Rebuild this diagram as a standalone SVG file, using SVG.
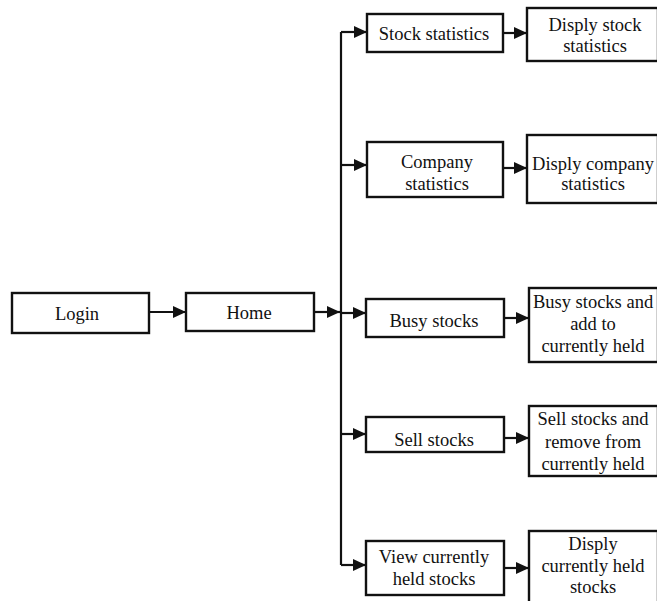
<svg xmlns="http://www.w3.org/2000/svg" width="657" height="601" viewBox="0 0 657 601">
<defs>
<marker id="arr" markerUnits="userSpaceOnUse" markerWidth="14" markerHeight="14" refX="13" refY="7" orient="auto">
<path d="M0,1 L13,7 L0,13 z" fill="#111"/>
</marker>
<style>
rect{fill:#fff;stroke:#111;stroke-width:2.4}
text{font-size:18.5px;fill:#111;text-anchor:middle}
.c{fill:none;stroke:#111;stroke-width:2.2}
</style>
</defs>
<rect x="0" y="0" width="657" height="601" style="stroke:none"/>
<g id="connectors">
<path class="c" d="M149,312 H186" marker-end="url(#arr)"/>
<path class="c" d="M314,312 H340" marker-end="url(#arr)"/>
<path class="c" d="M341,32 V565"/>
<path class="c" d="M341,32 H367" marker-end="url(#arr)"/>
<path class="c" d="M341,165 H367" marker-end="url(#arr)"/>
<path class="c" d="M341,313 H366" marker-end="url(#arr)"/>
<path class="c" d="M341,434 H366" marker-end="url(#arr)"/>
<path class="c" d="M341,565 H366" marker-end="url(#arr)"/>
<path class="c" d="M503,33 H527" marker-end="url(#arr)"/>
<path class="c" d="M503,168 H527" marker-end="url(#arr)"/>
<path class="c" d="M504,318 H529" marker-end="url(#arr)"/>
<path class="c" d="M504,438 H529" marker-end="url(#arr)"/>
<path class="c" d="M504,568 H529" marker-end="url(#arr)"/>
</g>
<g font-family="'Liberation Serif', 'Times New Roman', 'DejaVu Serif', serif">
<g id="login"><rect x="12" y="293" width="137" height="40"/><text x="77" y="320">Login</text></g>
<g id="home"><rect x="186" y="293" width="128" height="38"/><text x="249" y="319">Home</text></g>
<g id="stock-statistics"><rect x="367" y="14" width="136" height="38"/><text x="434" y="40">Stock statistics</text></g>
<g id="company-statistics"><rect x="367" y="142" width="136" height="55"/><text x="437" y="168">Company</text><text x="437" y="190">statistics</text></g>
<g id="busy-stocks"><rect x="366" y="299" width="138" height="38"/><text x="434" y="327">Busy stocks</text></g>
<g id="sell-stocks"><rect x="366" y="417" width="138" height="35"/><text x="434" y="446">Sell stocks</text></g>
<g id="view-held"><rect x="366" y="541" width="138" height="54"/><text x="434" y="563">View currently</text><text x="434" y="585">held stocks</text></g>
<g id="display-stock"><rect x="527" y="8" width="131" height="53"/><text x="595" y="31">Disply stock</text><text x="595" y="52">statistics</text></g>
<g id="display-company"><rect x="527" y="135" width="131" height="68"/><text x="593" y="170">Disply company</text><text x="593" y="190">statistics</text></g>
<g id="busy-add"><rect x="529" y="288" width="129" height="74"/><text x="593" y="308">Busy stocks and</text><text x="593" y="330">add to</text><text x="593" y="352">currently held</text></g>
<g id="sell-remove"><rect x="529" y="406" width="129" height="70"/><text x="593" y="425">Sell stocks and</text><text x="593" y="448">remove from</text><text x="593" y="470">currently held</text></g>
<g id="display-held"><rect x="529" y="531" width="129" height="75"/><text x="593" y="550">Disply</text><text x="593" y="572">currently held</text><text x="593" y="593">stocks</text></g>
</g>
</svg>
